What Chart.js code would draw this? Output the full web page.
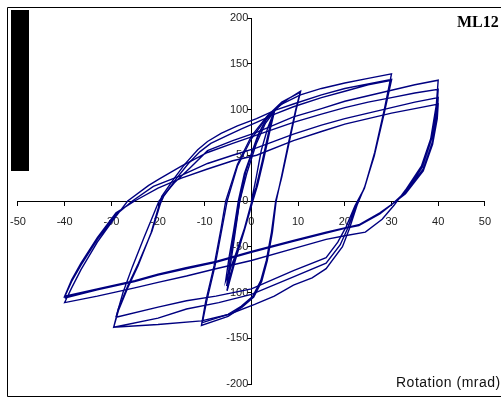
<!DOCTYPE html>
<html>
<head>
<meta charset="utf-8">
<script src="https://cdn.jsdelivr.net/npm/chart.js@4.4.1/dist/chart.umd.min.js"></script>
<style>
html,body{margin:0;padding:0;background:#fff;}
#wrap{position:relative;width:501px;height:397px;}
</style>
</head>
<body>
<div id="wrap"><canvas id="c" width="501" height="397"></canvas></div>
<script>
// ---- data (rotation mrad, moment) ----
const xTicks = [-50, -40, -30, -20, -10, 0, 10, 20, 30, 40, 50];
const yTicks = [-200, -150, -100, -50, 0, 50, 100, 150, 200];
const titleText = 'ML12';
const xAxisTitle = 'Rotation (mrad)';

// +/-5 mrad cycles
const cycles5 = [
[0,0],[1,25],[2.1,55],[3.5,80],[4.9,98],
[4,80],[2.5,45],[1.2,18],[0.3,0],[-1.5,-30],[-3.5,-60],[-5.5,-87],
[-4.8,-62],[-3.8,-32],[-2.8,0],[-1.5,30],[0,52],[1.4,72],[3,88],[4.6,96],
[3.8,78],[2.3,43],[1,15],[0.1,0],[-1.6,-32],[-3.4,-62],[-5.3,-93],
[-4.6,-66],[-3.6,-34],[-2.5,0],[-1.2,32],[0.3,55],[1.7,74],[3.3,90],[5,99],
[4.1,80],[2.6,45],[1.3,17],[0.3,0],[-1.5,-32],[-3.4,-64],[-5.2,-98]
];
// +/-10 mrad cycles
const cycles10 = [
[-5.2,-98],[-4.5,-70],[-3.5,-35],[-2.5,0],[-1,30],[1,62],[3,85],[5.5,102],[8,112],[10.5,120],
[9.5,100],[8,65],[6.5,28],[5.3,0],[4.5,-34],[3.4,-65],[2.2,-88],[0.5,-105],[-2,-116],[-5,-126],[-10.7,-136],
[-9.8,-110],[-8,-71],[-6.5,-30],[-5.5,0],[-3,40],[0,71],[3.4,93],[6.5,108],[10.5,119],
[9.5,98],[8,62],[6.5,26],[5.2,0],[4.3,-34],[3.2,-65],[2,-87],[0.3,-104],[-2.2,-115],[-5,-124],[-10.5,-133]
];
// +/-30 mrad cycles
const cycles30 = [
[-10.5,-133],[-9.6,-110],[-7.8,-71],[-6.3,-30],[-5.2,0],[-3,38],[0,68],[3.4,92],[6.5,106],[10.5,116],[15,123],[20,129],[25,134],[30,139],
[28.5,101],[26.4,53],[24.3,16],[22.6,-5],[21,-30],[19.5,-50],[16,-74],[13,-84],[9,-92],[4.9,-104],[0.7,-113],[-4.9,-124],[-10.7,-131],[-20,-135],[-29.5,-138],
[-28.5,-120],[-26.5,-95],[-24.3,-71],[-21.5,-35],[-19.8,-5],[-19.2,5],[-16.5,25],[-14.3,40],[-11.5,56],[-9.4,65],[-6.5,74],[-3,82],[1.1,90],[5,99],[9,106],[15,116],[20,123],[25,128],[30,133],
[28.4,96],[26.3,50],[24.2,14],[22.4,-5],[20.6,-30],[19,-48],[16,-68],[9,-83],[0,-102],[-7,-111],[-13.9,-118],[-20,-128],[-29.5,-138],
[-28.5,-118],[-26.5,-93],[-24.2,-68],[-21.3,-33],[-19.5,-3],[-18.8,5],[-16,25],[-13.5,41],[-11,54],[-8.7,63],[-5,72],[-2,79],[1.1,86],[5,95],[9,103],[15,113],[20,120],[25,127],[30,132],
[28.4,95],[26.3,49],[24.1,13],[22.2,-5],[20.3,-28],[18.5,-45],[16,-62],[9,-76],[0,-96],[-7.6,-104],[-13.9,-109],[-20,-116],[-29,-127]
];
// +/-40 mrad cycles
const cycles40 = [
[-29,-127],[-27.5,-100],[-25.5,-72],[-23,-40],[-21,-15],[-19.8,0],[-16.5,20],[-13,37],[-9.4,55],[-4,66],[1.1,75],[9,92],[15,101],[20,109],[25,115],[30,121],[35,127],[40,132],
[39.6,105],[38.4,68],[36.4,38],[33,12],[30.5,-5],[28,-20],[24.4,-34],[20,-38],[16,-42],[9,-52],[0,-65],[-7.6,-74],[-13.9,-82],[-20,-89],[-25,-95],[-33,-104],[-40,-111],
[-38.5,-95],[-36.5,-75],[-33,-45],[-29.5,-20],[-26.5,0],[-22,17],[-19.8,24],[-15,38],[-9.4,53],[-4,63],[1.1,72],[9,86],[15,95],[20,102],[25,108],[30,113],[35,118],[40,122],
[39.7,100],[38.6,68],[36.6,37],[33,10],[30,-4],[27.5,-14],[23,-27],[16,-34],[9,-43],[0,-55],[-7.6,-66],[-14,-73],[-20,-80],[-25,-87],[-33,-96],[-40,-105],
[-38.5,-88],[-36.5,-70],[-33,-42],[-29,-15],[-25.5,0],[-21,16],[-15,28],[-9.4,41],[-4,50],[1.1,58],[9,73],[15,83],[20,90],[25,96],[30,102],[35,108],[40,113],
[39.8,95],[38.8,65],[36.8,35],[33,9],[30,-4],[27.5,-13],[23,-26],[16,-34],[9,-43],[0,-55],[-7.6,-67],[-14,-74],[-20,-81],[-25,-87],[-33,-96],[-40,-104],
[-38.5,-86],[-36.5,-68],[-33,-40],[-29,-13],[-25,0],[-20,14],[-15,25],[-9.4,35],[-4,44],[1.1,50],[9,66],[15,76],[20,84],[25,90],[30,96],[35,101],[40,106],
[39.8,90],[38.8,62],[36.8,33],[33,8],[30,-4],[27.5,-13],[23,-26],[16,-35],[9,-44],[0,-56],[-7.6,-67],[-14,-74],[-20,-81],[-25,-88],[-33,-97],[-40,-106]
];

const toPts = arr => arr.map(p => ({x: p[0], y: p[1]}));
const LINE = '#000080';
const TICKFONT = { size: 11, family: '"Liberation Sans", Arial, sans-serif' };

const decor = {
  id: 'decor',
  afterDraw(chart) {
    const ctx = chart.ctx;
    ctx.save();
    ctx.strokeStyle = '#000';
    ctx.lineWidth = 1;
    ctx.beginPath();
    ctx.moveTo(520, 7.5); ctx.lineTo(7.5, 7.5); ctx.lineTo(7.5, 396.5); ctx.lineTo(520, 396.5);
    ctx.stroke();
    ctx.fillStyle = '#000';
    ctx.fillRect(11, 10, 18, 161);
    ctx.font = 'bold 16px "Liberation Serif", "Times New Roman", serif';
    ctx.textBaseline = 'alphabetic';
    ctx.textAlign = 'left';
    ctx.fillText(titleText, 457, 27);
    ctx.font = '14px "Liberation Sans", Arial, sans-serif';
    ctx.fillStyle = '#111';
    try { ctx.letterSpacing = '0.5px'; } catch (e) {}
    ctx.fillText(xAxisTitle, 396, 387);
    ctx.restore();
  }
};

new Chart(document.getElementById('c'), {
  type: 'scatter',
  data: {
    datasets: [cycles5, cycles10, cycles30, cycles40].map(a => ({
      data: toPts(a),
      showLine: true,
      borderColor: LINE,
      borderWidth: 1.4,
      pointRadius: 0,
      tension: 0,
      fill: false
    }))
  },
  options: {
    responsive: false,
    animation: false,
    events: [],
    layout: { padding: { left: 17, top: 18, right: 5, bottom: 13 } },
    plugins: { legend: { display: false }, tooltip: { enabled: false }, title: { display: false } },
    scales: {
      x: {
        type: 'linear',
        position: { y: 0 },
        min: -50, max: 50,
        afterBuildTicks: s => { s.ticks = xTicks.map(v => ({ value: v })); },
        grid: { drawOnChartArea: false, drawTicks: true, tickLength: 4, color: '#000' },
        border: { display: true, color: '#000', width: 1 },
        ticks: { color: '#222', font: TICKFONT, padding: 10, maxRotation: 0, autoSkip: false }
      },
      y: {
        type: 'linear',
        position: { x: 0 },
        min: -200, max: 200,
        afterBuildTicks: s => { s.ticks = yTicks.map(v => ({ value: v })); },
        grid: { drawOnChartArea: false, drawTicks: true, tickLength: 4, color: '#000' },
        border: { display: true, color: '#000', width: 1 },
        ticks: { color: '#222', font: TICKFONT, padding: 4, autoSkip: false,
                 callback: v => String(v) + ' ' }
      }
    }
  },
  plugins: [decor]
});
</script>
</body>
</html>
